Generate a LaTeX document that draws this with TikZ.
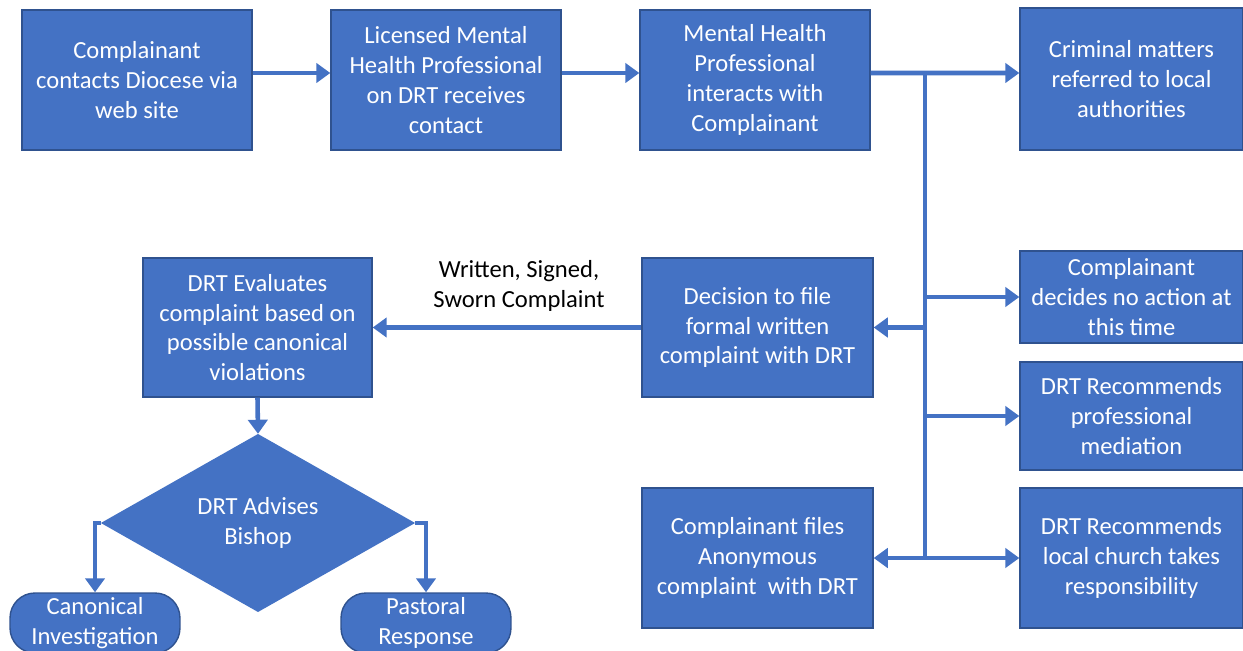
\documentclass[tikz,border=0pt]{standalone}
\usepackage{fontspec}
\setmainfont{Carlito}
\usepackage{xcolor}
\usepackage{tikz}
\usetikzlibrary{shapes.geometric, arrows.meta, positioning, calc}

\definecolor{boxblue}{HTML}{4472C4}
\definecolor{boxedge}{HTML}{2F528F}

\begin{document}
\begin{tikzpicture}[x=0.02cm, y=-0.02cm,
  box/.style={rectangle, fill=boxblue, draw=boxedge, line width=0.8pt,
    text=white, align=center, inner sep=2pt,
    font=\fontsize{14}{17}\selectfont},
  flow/.style={draw=boxblue, line width=2.6pt,
    -{Triangle[length=8pt,width=11pt]}},
  tag/.style={align=center, font=\fontsize{14}{17}\selectfont}
]
  \useasboundingbox (0,0) rectangle (1243,651);

  %% Top row
  \node[box, minimum width=4.6cm, minimum height=2.8cm] (contact) at (137,80)
    {Complainant\\contacts Diocese via\\web site};
  \node[box, minimum width=4.6cm, minimum height=2.8cm] (licensed) at (446,80)
    {Licensed Mental\\Health Professional\\on DRT receives\\contact};
  \node[box, minimum width=4.6cm, minimum height=2.8cm] (interact) at (755,80)
    {Mental Health\\Professional\\interacts with\\Complainant};
  \node[box, minimum width=4.46cm, minimum height=2.84cm] (criminal) at (1131.5,79)
    {Criminal matters\\referred to local\\authorities};

  %% Middle
  \node[box, minimum width=4.58cm, minimum height=2.78cm] (evaluate) at (257.5,327.5)
    {DRT Evaluates\\complaint based on\\possible canonical\\violations};
  \node[box, minimum width=4.62cm, minimum height=2.78cm] (decide) at (757.5,327.5)
    {Decision to file\\formal written\\complaint with DRT};
  \node[box, minimum width=4.46cm, minimum height=1.84cm] (noaction) at (1131.5,297)
    {Complainant\\decides no action at\\this time};
  \node[box, minimum width=4.46cm, minimum height=2.16cm] (mediate) at (1131.5,416)
    {DRT Recommends\\professional\\mediation};

  %% Bottom
  \node[box, minimum width=4.62cm, minimum height=2.8cm] (anon) at (757.5,558)
    {Complainant files\\Anonymous\\complaint\ \ with DRT};
  \node[box, minimum width=4.46cm, minimum height=2.8cm] (church) at (1131.5,558)
    {DRT Recommends\\local church takes\\responsibility};

  %% Bishop decision
  \node[box, diamond, draw=boxblue, minimum width=6.24cm, minimum height=3.54cm,
    inner sep=0pt] (advise) at (258,523) {DRT Advises\\Bishop};
  \node[box, rounded corners=0.5cm, minimum width=3.4cm, minimum height=1.2cm]
    (canon) at (95,623) {Canonical\\Investigation};
  \node[box, rounded corners=0.5cm, minimum width=3.4cm, minimum height=1.2cm]
    (pastor) at (426,623) {Pastoral\\Response};

  \node[tag] (sworn) at (519,286) {Written, Signed,\\Sworn Complaint};

  %% Connectors
  \coordinate (jtop) at (925,73);
  \coordinate (jbot) at (925,558);

  \draw[flow] ([yshift=0.14cm]contact.east) -- ([yshift=0.14cm]licensed.west);
  \draw[flow] ([yshift=0.14cm]licensed.east) -- ([yshift=0.14cm]interact.west);
  \draw[flow] ([yshift=0.14cm]interact.east) -- (jtop -| criminal.west);
  \draw[draw=boxblue, line width=2.6pt] (jtop) -- (jbot);

  \draw[flow] (jtop |- noaction.west) -- (noaction.west);
  \draw[flow] (jtop |- decide.east) -- (decide.east);
  \draw[flow] (jtop |- mediate.west) -- (mediate.west);
  \draw[flow] (jbot) -- (church.west);
  \draw[flow] (jbot) -- (anon.east);

  \draw[flow] (decide.west) -- (evaluate.east);
  \draw[flow] (evaluate.south) -- (advise.north);
  \draw[flow] (advise.west) -| (canon.north);
  \draw[flow] (advise.east) -| (pastor.north);
\end{tikzpicture}
\end{document}
